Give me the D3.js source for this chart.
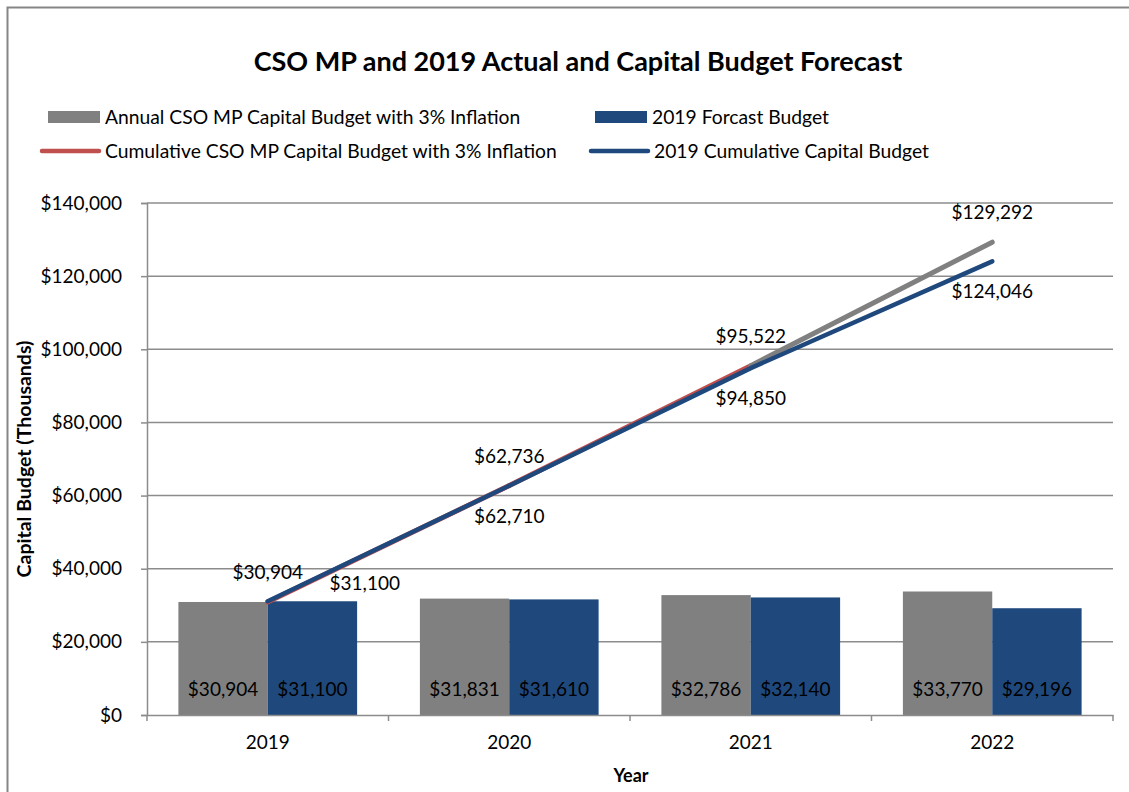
<!DOCTYPE html>
<html lang="en">
<head>
<meta charset="utf-8">
<title>CSO MP Capital Budget</title>
<script src="https://cdn.jsdelivr.net/npm/d3@7"></script>
<style>
	body { margin: 0; background: #fff; }
	svg text { font-family: Lato, "Open Sans", sans-serif; fill: #000; }
</style>
</head>
<body>
<script>

// ---- data ----
var years = ["2019", "2020", "2021", "2022"];
var annualMP = [30904, 31831, 32786, 33770];
var forecast2019 = [31100, 31610, 32140, 29196];
var cumulativeMP = [30904, 62736, 95522, 129292];
var cumulative2019 = [31100, 62710, 94850, 124046];
var yTicks = [0, 20000, 40000, 60000, 80000, 100000, 120000, 140000];

// ---- canvas ----
var w = 1129, h = 792;
var plotLeft = 147, plotRight = 1113, plotTop = 203, plotBottom = 715;
var fs = "19px";

var svg = d3.select("body").append("svg")
	.attr("width", w)
	.attr("height", h);

// chart frame
svg.append("path")
	.attr("d", "M7.5," + h + "V7.5H" + w)
	.attr("fill", "none")
	.attr("stroke", "#868686")
	.attr("stroke-width", 2);

var fmt = function(v) { return "$" + d3.format(",")(v); };

var x = d3.scaleBand().domain(years).range([plotLeft, plotRight]).paddingInner(0.26).paddingOuter(0.13);
var xc = d3.scaleBand().domain(years).range([plotLeft, plotRight]);
var y = d3.scaleLinear().domain([0, 140000]).range([plotBottom, plotTop]);

// gridlines
svg.append("g").selectAll("line")
	.data(yTicks.slice(1))
	.enter().append("line")
	.attr("x1", plotLeft).attr("x2", plotRight)
	.attr("y1", function(d) { return y(d); })
	.attr("y2", function(d) { return y(d); })
	.attr("stroke", "#8c8c8c")
	.attr("stroke-width", 1.5);

// y axis
var yAxis = svg.append("g")
	.attr("transform", "translate(" + plotLeft + ",0)")
	.call(d3.axisLeft(y).tickValues(yTicks).tickFormat(fmt).tickSize(6).tickPadding(19));
yAxis.select(".domain").attr("stroke", "#8c8c8c").attr("stroke-width", 1.5);
yAxis.selectAll(".tick line").attr("stroke", "#8c8c8c").attr("stroke-width", 1.5);
yAxis.selectAll("text").style("font-size", fs).attr("fill", "#000").attr("font-family", null);

// bars
var bw = x.bandwidth() / 2;
var series = [
	{ vals: annualMP, color: "#808080", off: 0 },
	{ vals: forecast2019, color: "#1f497d", off: 1 }
];
series.forEach(function(s) {
	var g = svg.append("g");
	g.selectAll("rect")
		.data(s.vals)
		.enter().append("rect")
		.attr("x", function(d, i) { return x(years[i]) + s.off * bw; })
		.attr("y", function(d) { return y(d); })
		.attr("width", bw)
		.attr("height", function(d) { return y(0) - y(d); })
		.attr("fill", s.color);
	g.selectAll("text")
		.data(s.vals)
		.enter().append("text")
		.attr("x", function(d, i) { return x(years[i]) + s.off * bw + bw / 2; })
		.attr("y", y(0) - 19)
		.attr("text-anchor", "middle")
		.style("font-size", fs)
		.text(fmt);
});

// x axis
var xAxis = svg.append("g")
	.attr("transform", "translate(0," + plotBottom + ")")
	.call(d3.axisBottom(xc).tickSize(0).tickPadding(21));
xAxis.select(".domain").attr("stroke", "#8c8c8c").attr("stroke-width", 1.5);
xAxis.selectAll("text").style("font-size", fs).attr("fill", "#000").attr("font-family", null);
// category boundary ticks
svg.append("g").selectAll("line")
	.data(years.concat(["end"]))
	.enter().append("line")
	.attr("x1", function(d, i) { return i < years.length ? xc(d) : plotRight; })
	.attr("x2", function(d, i) { return i < years.length ? xc(d) : plotRight; })
	.attr("y1", plotBottom).attr("y2", plotBottom + 6)
	.attr("stroke", "#8c8c8c")
	.attr("stroke-width", 1.5);

// lines
var cx = function(i) { return xc(years[i]) + xc.bandwidth() / 2; };

// cumulative MP line, last segment shows grey
var mpColors = ["#c0504d", "#c0504d", "#808080"];
svg.append("g").selectAll("line")
	.data(cumulativeMP.slice(1))
	.enter().append("line")
	.attr("x1", function(d, i) { return cx(i); })
	.attr("y1", function(d, i) { return y(cumulativeMP[i]); })
	.attr("x2", function(d, i) { return cx(i + 1); })
	.attr("y2", function(d) { return y(d); })
	.attr("stroke", function(d, i) { return mpColors[i]; })
	.attr("stroke-width", 5)
	.attr("stroke-linecap", "round");

var line = d3.line()
	.x(function(d, i) { return cx(i); })
	.y(function(d) { return y(d); });

svg.append("path")
	.datum(cumulative2019)
	.attr("d", line)
	.attr("fill", "none")
	.attr("stroke", "#1f497d")
	.attr("stroke-width", 4.5)
	.attr("stroke-linecap", "round");

// line labels
svg.append("g").selectAll("text")
	.data(cumulativeMP)
	.enter().append("text")
	.attr("x", function(d, i) { return cx(i); })
	.attr("y", function(d) { return y(d) - 23; })
	.attr("text-anchor", "middle")
	.style("font-size", fs)
	.text(fmt);

svg.append("g").selectAll("text")
	.data(cumulative2019)
	.enter().append("text")
	.attr("x", function(d, i) { return i == 0 ? cx(i) + 97 : cx(i); })
	.attr("y", function(d, i) { return i == 0 ? y(d) - 11 : y(d) + 37; })
	.attr("text-anchor", "middle")
	.style("font-size", fs)
	.text(fmt);

// title
svg.append("text")
	.attr("x", 578).attr("y", 71)
	.attr("text-anchor", "middle")
	.style("font-size", "27px")
	.style("font-weight", "bold")
	.text("CSO MP and 2019 Actual and Capital Budget Forecast");

// axis titles
svg.append("text")
	.attr("transform", "translate(31,459) rotate(-90)")
	.attr("text-anchor", "middle")
	.style("font-size", "19.5px")
	.style("font-weight", "bold")
	.text("Capital Budget (Thousands)");

svg.append("text")
	.attr("x", 631).attr("y", 782)
	.attr("text-anchor", "middle")
	.style("font-size", "18px")
	.style("font-weight", "bold")
	.text("Year");

// legend
var legend = [
	{ name: "Annual CSO MP Capital Budget with 3% Inflation", color: "#808080", type: "rect", x: 48, y: 117 },
	{ name: "2019 Forcast Budget", color: "#1f497d", type: "rect", x: 595, y: 117 },
	{ name: "Cumulative CSO MP Capital Budget with 3% Inflation", color: "#c0504d", type: "line", x: 42, y: 151 },
	{ name: "2019 Cumulative Capital Budget", color: "#1f497d", type: "line", x: 591, y: 151 }
];
var lg = svg.append("g").selectAll("g")
	.data(legend)
	.enter().append("g");
lg.filter(function(d) { return d.type == "rect"; }).append("rect")
	.attr("x", function(d) { return d.x; })
	.attr("y", function(d) { return d.y - 6; })
	.attr("width", 52).attr("height", 12)
	.attr("fill", function(d) { return d.color; });
lg.filter(function(d) { return d.type == "line"; }).append("line")
	.attr("x1", function(d) { return d.x; })
	.attr("x2", function(d) { return d.x + 57; })
	.attr("y1", function(d) { return d.y; })
	.attr("y2", function(d) { return d.y; })
	.attr("stroke", function(d) { return d.color; })
	.attr("stroke-width", 4.5)
	.attr("stroke-linecap", "round");
lg.append("text")
	.attr("x", function(d) { return d.type == "rect" ? d.x + 57 : d.x + 63; })
	.attr("y", function(d) { return d.y + 6.5; })
	.style("font-size", "19.3px")
	.text(function(d) { return d.name; });

</script>
</body>
</html>
